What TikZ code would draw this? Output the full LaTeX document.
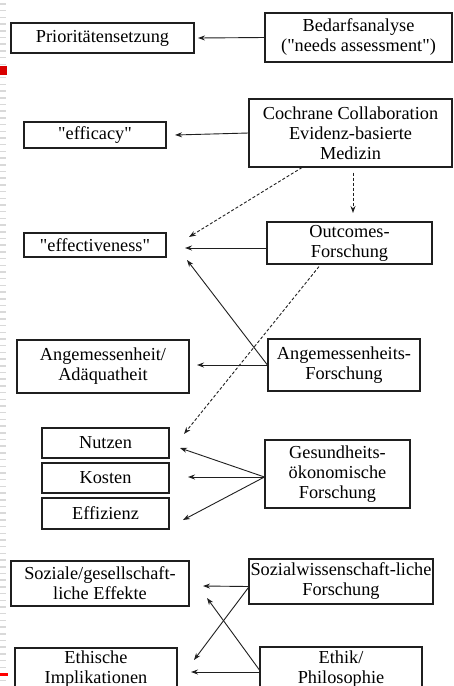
\documentclass[tikz,border=0pt]{standalone}
\usepackage{fontspec}
\setmainfont{Liberation Serif}
\usetikzlibrary{positioning, calc, arrows.meta}
\definecolor{ink}{gray}{0.12}
\tikzset{
  box/.style={draw=ink, line width=1.1pt, rectangle, inner sep=0pt, align=center, font=\fontsize{18.3}{20}\selectfont},
  arr/.style={ink, line width=0.9pt, -{Stealth[length=7pt, width=5pt]}},
  darr/.style={arr, densely dashed},
}

\begin{document}
\begin{tikzpicture}[x=1pt, y=-1pt]
\useasboundingbox (0,0) rectangle (453,686);
\fill[white] (0,0) rectangle (453,686);
\foreach \y in {4,10.7,...,686}
	\draw[gray!30, line width=1.5pt] (0,\y)--(6,\y);
\fill[red!85!black] (0,66) rectangle (7,75);
\fill[red] (0,673) rectangle (8,676);

\node[box, minimum width=183, minimum height=30] (prio) at (102.5,38) {Prioritätensetzung};
\node[box, minimum width=187, minimum height=49] (bedarf) at (358.5,37.5) {Bedarfsanalyse\\(\textquotedbl needs assessment\textquotedbl)};
\node[box, minimum width=203, minimum height=68] (cochrane) at (350.5,133) {Cochrane Collaboration\\Evidenz-basierte\\Medizin};
\node[box, minimum width=142, minimum height=26] (efficacy) at (95,135) {\textquotedbl efficacy\textquotedbl};
\node[box, minimum width=165, minimum height=42] (outcomes) at (349.5,243) {Outcomes-\\Forschung};
\node[box, minimum width=142, minimum height=24] (effective) at (95,245) {\textquotedbl effectiveness\textquotedbl};
\node[box, minimum width=172, minimum height=53] (angem) at (103,366.5) {Angemessenheit/\\Adäquatheit};
\node[box, minimum width=152, minimum height=52] (angemF) at (344,365) {Angemessenheits-\\Forschung};
\node[box, minimum width=127, minimum height=30] (nutzen) at (105.5,443) {Nutzen};
\node[box, minimum width=127, minimum height=30] (kosten) at (105.5,478) {Kosten};
\node[box, minimum width=127, minimum height=31] (effizienz) at (105.5,513.5) {Effizienz};
\node[box, minimum width=145, minimum height=68] (gesund) at (337.5,474) {Gesundheits-\\ökonomische\\Forschung};
\node[box, minimum width=178, minimum height=45] (sozial) at (100,583.5) {Soziale/gesellschaft-\\liche Effekte};
\node[box, minimum width=184, minimum height=45] (sozialw) at (341,581.5) {Sozialwissenschaft-liche\\Forschung};
\node[box, minimum width=162, minimum height=42] (ethisch) at (96,669) {Ethische\\Implikationen};
\node[box, minimum width=162, minimum height=44] (ethik) at (341,669) {Ethik/\\Philosophie};

\coordinate (tPrio) at (198,38);
\coordinate (tEfficacy) at (175,135);
\coordinate (tEffA) at (189,237);
\coordinate (tOutcomes) at (353,213);
\coordinate (tEffB) at (185,248);
\coordinate (tEffC) at (187,260);
\coordinate (tAngem) at (197,365);
\coordinate (tNutzenA) at (184,434);
\coordinate (tNutzenB) at (180,448);
\coordinate (tKosten) at (188,477);
\coordinate (tEffizienz) at (183,520);
\coordinate (tSozialA) at (203,586);
\coordinate (tSozialB) at (207,598);
\coordinate (tEthischA) at (194,660);
\coordinate (tEthischB) at (191,672);

\draw[arr] (bedarf.west) -- (tPrio);
\draw[arr] (cochrane.west) -- (tEfficacy);
\draw[darr] ([xshift=-48.5pt]cochrane.south) -- (tEffA);
\draw[darr] ([xshift=2.5pt, yshift=-5pt]cochrane.south) -- (tOutcomes);
\draw[arr] ([yshift=-5pt]outcomes.west) -- (tEffB);
\draw[arr] (angemF.west) -- (tEffC);
\draw[darr] ([xshift=-30.5pt, yshift=-2pt]outcomes.south) -- (tNutzenA);
\draw[arr] (angemF.west) -- (tAngem);
\foreach \t in {tNutzenB, tKosten, tEffizienz}
	\draw[arr] ([yshift=-3pt]gesund.west) -- (\t);
\draw[arr] ([yshift=-5pt]sozialw.west) -- (tSozialA);
\draw[arr] ([yshift=-6pt]sozialw.west) -- (tEthischA);
\draw[arr] ([yshift=-3pt]ethik.west) -- (tEthischB);
\draw[arr] ([yshift=-1pt]ethik.west) -- (tSozialB);
\end{tikzpicture}
\end{document}
